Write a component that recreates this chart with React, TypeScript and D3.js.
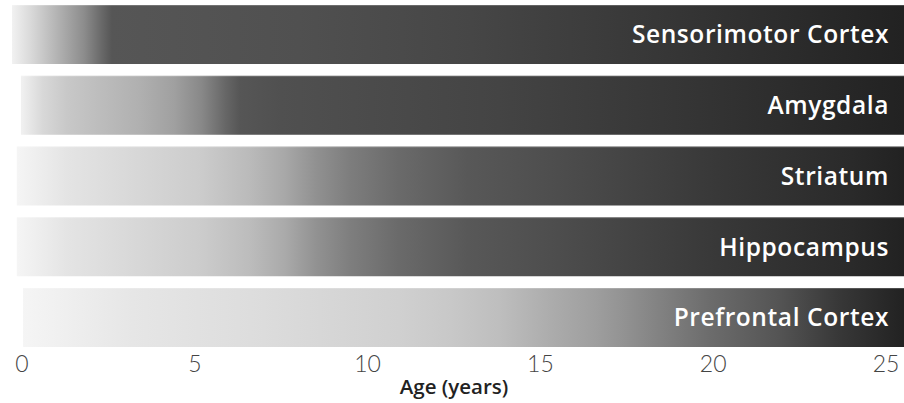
import React from "react";
import * as d3 from "d3";

const W = 904;
const H = 403;

const regions = ["Sensorimotor Cortex", "Amygdala", "Striatum", "Hippocampus", "Prefrontal Cortex"];
const barStartAge = [-0.29, -0.03, -0.15, -0.15, 0.03];
const barEndAge = 25.55;

// [age (years), gray level 0-255]
const sensorimotorStops: [number, number][] = [
  [-0.3, 242], [0.3, 215], [1.0, 180], [1.8, 140], [2.3, 105], [2.6, 86],
  [8, 80], [13, 70], [18, 56], [25.5, 34],
];
const amygdalaStops: [number, number][] = [
  [0, 240], [0.6, 216], [1.3, 200], [2.3, 188], [3.4, 176], [4.4, 160],
  [5.2, 136], [5.9, 102], [6.3, 86], [7.5, 80], [13.8, 68], [19.6, 52], [25.5, 34],
];
const striatumStops: [number, number][] = [
  [-0.15, 245], [1.3, 228], [3.2, 216], [5.15, 204], [6.6, 186], [7.6, 168],
  [8.5, 145], [9.5, 125], [10.9, 106], [12.9, 88], [15.3, 78], [20.1, 56], [24, 42], [25.5, 34],
];
const hippocampusStops: [number, number][] = [
  [-0.15, 245], [1.3, 228], [3.2, 216], [5.15, 204], [6.6, 188], [7.6, 170],
  [8.5, 146], [9.5, 126], [10.9, 106], [12.9, 88], [15.3, 78], [20.1, 56], [24, 42], [25.5, 34],
];
const prefrontalStops: [number, number][] = [
  [0, 245], [3.2, 230], [7, 220], [10.9, 208], [12.4, 200], [13.8, 190],
  [15.3, 172], [16.6, 158], [17.3, 148], [18.3, 132], [19.9, 108], [21.9, 84],
  [23.6, 56], [25.5, 34],
];
const regionStops = [sensorimotorStops, amygdalaStops, striatumStops, hippocampusStops, prefrontalStops];

const tickValues = [0, 5, 10, 15, 20, 25];
const axisTitle = "Age (years)";

export default function App() {
  const x = d3.scaleLinear().domain([0, 25]).range([22, 886]);
  const y = d3.scaleBand<string>().domain(regions).range([5, 347]).paddingInner(0.166).paddingOuter(0);
  const gray = (g: number) => d3.rgb(g, g, g).formatHex();

  return (
    <svg
      width={W}
      height={H}
      style={{ position: "absolute", left: 0, top: 0, background: "#fff" }}
      xmlns="http://www.w3.org/2000/svg"
    >
      <defs>
        {regions.map((r, i) => (
          <linearGradient
            key={r}
            id={`grad-${i}`}
            gradientUnits="userSpaceOnUse"
            x1={0}
            x2={W}
            y1={0}
            y2={0}
          >
            {regionStops[i].map(([age, g], j) => (
              <stop key={j} offset={Math.max(0, Math.min(1, x(age) / W))} stopColor={gray(g)} />
            ))}
          </linearGradient>
        ))}
      </defs>
      {regions.map((r, i) => {
        const y0 = y(r) as number;
        const bh = y.bandwidth();
        const x0 = x(barStartAge[i]);
        const x1 = x(barEndAge);
        return (
          <g key={r}>
            <rect x={x0} y={y0} width={x1 - x0} height={bh} fill={`url(#grad-${i})`} />
            <line x1={x0} x2={x1} y1={y0 + 0.5} y2={y0 + 0.5} stroke="#fff" strokeOpacity={0.18} />
            <text
              x={889}
              y={y0 + bh / 2}
              dy="0.36em"
              textAnchor="end"
              fill="#fff"
              fontFamily="'Open Sans', Lato, sans-serif"
              fontWeight={600}
              fontSize={24.5}
              letterSpacing={0.6}
            >
              {r}
            </text>
          </g>
        );
      })}
      {tickValues.map((t) => (
        <text
          key={t}
          x={x(t)}
          y={372}
          textAnchor="middle"
          fill="#444"
          fontFamily="Lato, 'Open Sans', sans-serif"
          fontWeight={300}
          fontSize={23}
        >
          {t}
        </text>
      ))}
      <text
        x={454}
        y={394}
        textAnchor="middle"
        fill="#222"
        fontFamily="'Open Sans', Lato, sans-serif"
        fontWeight={600}
        fontSize={20.5}
      >
        {axisTitle}
      </text>
    </svg>
  );
}
